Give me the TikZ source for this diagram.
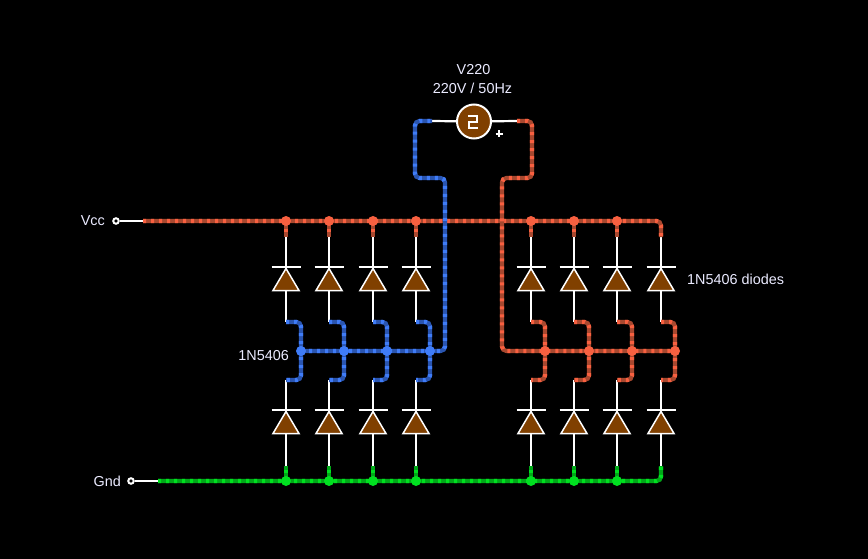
\documentclass[tikz,border=0pt]{standalone}
\usepackage{fontspec}
\setmainfont{Liberation Sans}
\definecolor{redA}{HTML}{F86040}
\definecolor{redB}{HTML}{A8482F}
\definecolor{blueA}{HTML}{3F7CF8}
\definecolor{blueB}{HTML}{2A55B0}
\definecolor{greenA}{HTML}{00E020}
\definecolor{greenB}{HTML}{00A818}
\definecolor{brownD}{HTML}{804000}
\tikzset{
  lead/.style={draw=white,line width=2.2pt},
  wbase/.style={line width=4.2pt,rounded corners=4.5pt},
  wtop/.style={line width=4.2pt,rounded corners=4.5pt,dash pattern=on 3pt off 5pt},
  dot/.style={circle,inner sep=0pt,minimum size=10pt},
  term/.style={circle,draw=white,line width=2pt,fill=black,inner sep=0pt,minimum size=5.5pt},
  lbl/.style={text=white!92!blue,font=\fontsize{14.4}{16}\selectfont,inner sep=0pt},
  dtri/.style={draw=white,line width=1.5pt,fill=brownD,line join=miter},
}
\newcommand{\redw}[1]{\draw[wbase,redB] #1; \draw[wtop,redA] #1;}
\newcommand{\bluew}[1]{\draw[wbase,blueB] #1; \draw[wtop,blueA] #1;}
\newcommand{\greenw}[1]{\draw[wbase,greenB] #1; \draw[wtop,greenA] #1;}
\newcommand{\diode}[2]{%
  \draw[dtri] (#1,#2+23.5) -- (#1-13,#2+23.5) -- (#1,#2+1.5) -- (#1+13,#2+23.5) -- cycle;
  \draw[white,line width=1.8pt] (#1-14.5,#2) -- (#1+14.5,#2);
}
\begin{document}
\begin{tikzpicture}[x=1pt,y=-1pt]
\useasboundingbox[fill=black] (0,0) rectangle (868,559);
% terminals and source
\node[term] (vcc) at (116,221) {};
\node[term] (gnd) at (131,481) {};
\coordinate (vccw) at (143,221);
\coordinate (gndw) at (158,481);
\coordinate (srcL) at (432,121);
\coordinate (srcR) at (517,121);
\node[circle,draw=white,line width=2pt,fill=brownD,minimum size=34pt,inner sep=0pt] (src) at (474,121.5) {};
\draw[lead] (vcc) -- (vccw);
\draw[lead] (gnd) -- (gndw);
\draw[lead] (src) -- (srcL);
\draw[lead] (src) -- (srcR);
\draw[white,line width=2.2pt,line cap=butt] (468,116) -- (477,116) -- (477,122) -- (469,122) -- (469,128) -- (478,128);
\draw[white,line width=1.7pt] (495.5,134) -- (502.5,134) (499,130.5) -- (499,137.5);
% labels
\node[lbl] (t1) at (473.5,70) {V220};
\node[lbl] (t2) at (472.5,88) {220V / 50Hz};
\node[lbl,anchor=east] (t3) at (105,221) {Vcc};
\node[lbl,anchor=east] (t4) at (121,481) {Gnd};
\node[lbl,anchor=east] (t5) at (289,356) {1N5406};
\node[lbl,anchor=west] (t6) at (687,279) {1N5406 diodes};
% leads and diodes
\foreach \x in {286,329,373,416,531,574,617,661}{
  \draw[lead] (\x,236) -- (\x,322);
  \draw[lead] (\x,380) -- (\x,467);
  \diode{\x}{267}
  \diode{\x}{410}
}
% stubs
\foreach \x in {286,329,373,416,531,574,617}{
  \redw{(\x,221) -- (\x,237)}
  \greenw{(\x,481) -- (\x,466)}
}
% ground and blue / red networks
\greenw{(gndw) -- (661,481) -- (661,466)}
\foreach \a/\b in {286/301,329/344,373/387,416/430}{
  \bluew{(\a,322) -- (\b,322) -- (\b,380) -- (\a,380)}
}
\foreach \a/\b in {531/545,574/589,617/632,661/675}{
  \redw{(\a,322) -- (\b,322) -- (\b,380) -- (\a,380)}
}
\redw{(vccw) -- (661,221) -- (661,237)}
\redw{(srcR) -- (532,121) -- (532,178) -- (502,178) -- (502,351) -- (675,351)}
\bluew{(301,351) -- (445,351) -- (445,178) -- (415,178) -- (415,121) -- (srcL)}
% junctions
\foreach \x in {286,329,373,416,531,574,617}{
  \node[dot,fill=redA] (jv\x) at (\x,221) {};
  \node[dot,fill=greenA] (jg\x) at (\x,481) {};
}
\foreach \x in {301,344,387,430}{\node[dot,fill=blueA] (jb\x) at (\x,351) {};}
\foreach \x in {545,589,632,675}{\node[dot,fill=redA] (jr\x) at (\x,351) {};}
\end{tikzpicture}
\end{document}
